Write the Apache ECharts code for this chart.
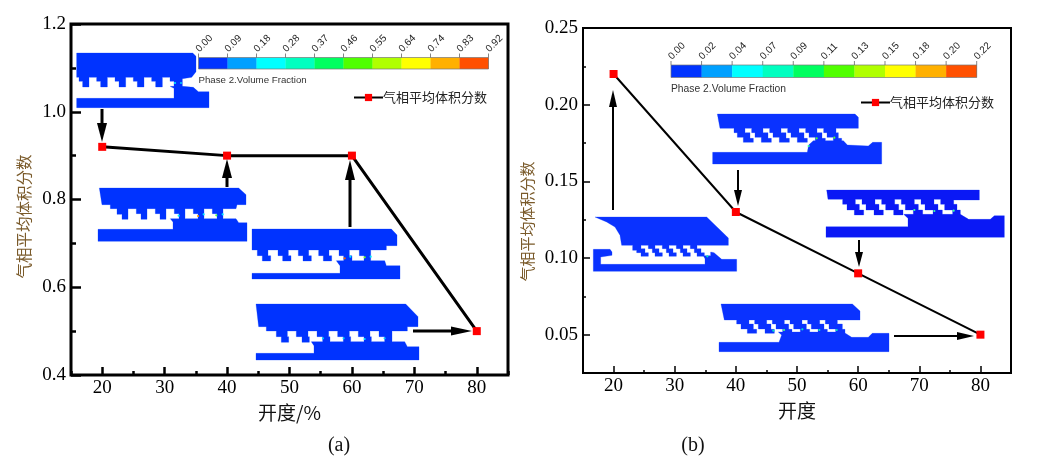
<!DOCTYPE html>
<html><head><meta charset="utf-8">
<style>html,body{margin:0;padding:0;background:#fff}#c{width:1038px;height:464px}</style>
<script src="https://cdn.jsdelivr.net/npm/echarts@6/dist/echarts.min.js"></script>
</head><body><div id="c"></div>
<script>
// ---------- data ----------
const openings = [20, 40, 60, 80];
const seriesName = '气相平均体积分数';
const valuesA = [0.92, 0.90, 0.90, 0.50];
const valuesB = [0.22, 0.13, 0.09, 0.05];
const xMajor = [20, 30, 40, 50, 60, 70, 80];
const xMinor = [15, 25, 35, 45, 55, 65, 75, 85];
const yMajorA = [0.4, 0.6, 0.8, 1.0, 1.2];
const yMinorA = [0.5, 0.7, 0.9, 1.1];
const yMajorB = [0.05, 0.10, 0.15, 0.20, 0.25];
const yMinorB = [0.075, 0.125, 0.175, 0.225];
const barLabelsA = ['0.00','0.09','0.18','0.28','0.37','0.46','0.55','0.64','0.74','0.83','0.92'];
const barLabelsB = ['0.00','0.02','0.04','0.07','0.09','0.11','0.13','0.15','0.18','0.20','0.22'];
const barColors = ['#0033ff','#00a0ff','#00ffff','#00ffc0','#00ff60','#50ff00','#b0ff00','#ffff00','#ffb000','#ff5000'];
const barTitle = 'Phase 2.Volume Fraction';

// ---------- inset drawings (valve cross-sections, in 3x crop units) ----------
function teeth(x0, period, n, rel) {
  const out = [];
  for (let i = 0; i < n; i++) rel.forEach(p => out.push([x0 + i * period + p[0], p[1]]));
  return out;
}
const insets = [
 {ox:70, oy:48, color:'#0033ff',
  top:[[20,88],[20,15],[368,15],[378,25],[378,71],[365,88],[337,92],[337,117]],
  edge:[[27,88],[27,100],[38,100],[38,117]].concat(teeth(38,55,5,[[19,117],[19,88],[42,88],[42,100],[54,100],[54,117]])),
  low:[[20,151],[312,151],[312,121],[300,115],[337,115],[370,118],[385,131],[417,131],[417,179],[20,179]],
  dots:[[315,105,'#00e8ff'],[333,105,'#00c8ff']]},
 {ox:92, oy:182, color:'#0033ff',
  top:[[30,68],[22,18],[440,18],[462,38],[462,68],[435,68],[432,80],[393,80],[393,112]],
  edge:[[55,68],[55,80],[75,80],[75,97],[90,97],[90,112]].concat(teeth(90,57,5,[[18,112],[18,80],[43,80],[43,95],[57,95],[57,112]])),
  low:[[18,142],[243,142],[243,120],[235,110],[432,110],[440,122],[465,122],[465,178],[18,178]],
  dots:[[260,101,'#00e8ff'],[318,102,'#ffa000'],[335,97,'#00e8ff'],[373,100,'#40ff40'],[392,97,'#00e8ff']]},
 {ox:248, oy:225, color:'#0033ff',
  top:[[12,75],[12,12],[430,12],[447,30],[447,62],[415,62],[415,75],[368,75],[368,108]],
  edge:[[28,75],[28,92],[43,92],[43,108]].concat(teeth(43,61,5,[[25,108],[25,92],[17,92],[17,75],[47,75],[47,92],[61,92],[61,108]])),
  low:[[12,145],[276,145],[276,122],[265,107],[410,107],[415,122],[456,122],[456,162],[12,162]],
  dots:[[290,100,'#ff6000'],[307,95,'#00e8ff'],[350,97,'#70ff20'],[368,95,'#00e8ff']]},
 {ox:248, oy:225, color:'#0033ff',
  top:[[32,305],[24,237],[473,237],[510,275],[510,305],[478,305],[478,318],[432,318],[432,352]],
  edge:[[55,305],[55,318],[85,318],[85,335],[100,335],[100,352]].concat(teeth(100,62,5,[[22,352],[22,335],[18,335],[18,318],[45,318],[45,335],[62,335],[62,352]])),
  low:[[24,385],[198,385],[198,362],[190,350],[470,350],[478,365],[513,365],[513,405],[24,405]],
  dots:[[225,340,'#00c8ff'],[287,340,'#00c8ff'],[350,342,'#00e8ff'],[410,340,'#00c8ff']]},
 {ox:590, oy:212, color:'#0a32ff',
  top:[[95,100],[90,70],[75,45],[50,30],[15,15],[350,15],[415,78],[415,100],[321,100]],
  edge:[[128,100],[128,115],[140,115],[140,122],[153,122],[153,133]].concat(teeth(153,42,4,[[22,133],[22,122],[12,122],[12,110],[0,110],[0,100],[22,100],[22,110],[34,110],[34,122],[42,122],[42,133]])).concat([[343,133],[343,122],[333,122],[333,110],[321,110]]),
  low:[[10,112],[60,112],[66,120],[66,130],[32,135],[32,157],[345,157],[345,140],[340,131],[362,131],[362,120],[372,122],[395,142],[440,142],[440,178],[10,178]],
  dots:[[352,133,'#00e8c0']]},
 {ox:710, oy:110, color:'#0a32ff',
  top:[[30,55],[22,12],[435,12],[445,22],[445,55],[378,55],[378,68],[385,68],[385,85],[395,85],[395,97]],
  edge:[[72,55],[72,68],[82,68],[82,82],[100,82],[100,97]].concat(teeth(100,54,5,[[30,97],[30,85],[20,85],[20,68],[5,68],[5,55],[25,55],[25,68],[35,68],[35,82],[54,82],[54,97]])),
  low:[[8,127],[292,127],[296,105],[310,92],[400,92],[412,105],[475,108],[488,97],[515,97],[515,162],[8,162]],
  dots:[[296,108,'#30ffa0'],[320,85,'#50ff30'],[373,83,'#50ff30']]},
 {ox:822, oy:185, color:'#0a18f5',
  top:[[18,43],[14,15],[472,15],[472,45],[395,45],[395,58],[405,58],[405,75],[415,75],[415,90]],
  edge:[[62,43],[62,58],[75,58],[75,75],[97,75],[97,90]].concat(teeth(97,59,5,[[28,90],[28,75],[15,75],[15,58],[3,58],[3,43],[23,43],[23,58],[35,58],[35,75],[59,75],[59,90]])),
  low:[[12,125],[258,125],[258,100],[245,88],[415,88],[440,103],[505,103],[517,92],[547,92],[547,157],[12,157]],
  dots:[[277,75,'#30ffa0'],[337,78,'#30ffa0'],[395,77,'#30ffa0']]},
 {ox:715, oy:300, color:'#0a32ff',
  top:[[28,60],[18,12],[412,12],[435,33],[435,60],[367,60],[367,72],[382,72],[382,88],[390,88],[390,100]],
  edge:[[65,60],[65,72],[78,72],[78,87],[97,87],[97,100]].concat(teeth(97,53,5,[[28,100],[28,88],[18,88],[18,72],[5,72],[5,60],[22,60],[22,72],[33,72],[33,87],[53,87],[53,100]])),
  low:[[12,127],[192,127],[200,105],[190,96],[385,96],[410,112],[460,112],[472,100],[522,100],[522,155],[12,155]],
  dots:[[175,92,'#00e8c0'],[207,90,'#40ff80'],[262,88,'#00e8c0'],[313,90,'#00e8c0'],[365,90,'#00e8c0']]}
];

// ---------- annotation arrows [x1, y1, x2 (tip), y2 (tip), shaft, head half-width, head length] ----------
const arrows = [
 [102,109,102,142,3,5,19],[227,187,227,159,3,5,19],[350,227,350,160,3,5,20],[413,331,472,331,3,4.5,21],
 [613,210,613,90,2,4,17],[738,170,738,206,2,4,16],[859,240,859,267,2,4,15],[894,336,974,336,2,4,17]
];

const graphics = [];
function scalePts(pts, ins) { return pts.map(p => [ins.ox + p[0] / 3, ins.oy + p[1] / 3]); }
insets.forEach(ins => {
  const upper = ins.top.concat(ins.edge.slice().reverse());
  // light halo first, solid fill on top, so the two bodies join without a seam
  [upper, ins.low].forEach(pts => graphics.push({type:'polygon', z:5, shape:{points:scalePts(pts, ins)},
    style:{fill:'#8ea8ff', stroke:'#a8bcff', lineWidth:0.8}}));
  [upper, ins.low].forEach(pts => graphics.push({type:'polygon', z:5, shape:{points:scalePts(pts, ins)},
    style:{fill:ins.color}}));
  ins.dots.forEach(d => graphics.push({type:'circle', z:6, shape:{cx:ins.ox+d[0]/3, cy:ins.oy+d[1]/3, r:1.1}, style:{fill:d[2]}}));
});
arrows.forEach(a => {
  const [x1,y1,x2,y2,w,hw,hl] = a;
  const len = Math.hypot(x2-x1, y2-y1), ux = (x2-x1)/len, uy = (y2-y1)/len;
  const bx = x2-ux*hl, by = y2-uy*hl;
  graphics.push({type:'line', z:7, shape:{x1, y1, x2:bx, y2:by}, style:{stroke:'#000', lineWidth:w}});
  graphics.push({type:'polygon', z:7, shape:{points:[[x2,y2],[bx-uy*hw,by+ux*hw],[bx+uy*hw,by-ux*hw]]}, style:{fill:'#000'}});
});
function colorBar(x0, x1, y0, y1, labels, titleY, titleSize, labelSize) {
  const step = (x1 - x0) / barColors.length;
  barColors.forEach((c, i) => graphics.push({type:'rect', z:5, shape:{x:x0+i*step, y:y0, width:step+0.3, height:y1-y0}, style:{fill:c}}));
  graphics.push({type:'rect', z:6, shape:{x:x0, y:y0, width:x1-x0, height:y1-y0}, style:{fill:'none', stroke:'#777', lineWidth:0.7}});
  labels.forEach((t, i) => {
    const x = x0 + i * step;
    graphics.push({type:'line', z:6, shape:{x1:x, y1:y0, x2:x, y2:y0-4}, style:{stroke:'#666', lineWidth:0.8}});
    graphics.push({type:'text', z:6, x:x-1, y:y0-7, rotation:Math.PI/4,
      style:{text:t, fill:'#222', font:labelSize+'px "Liberation Sans"', textAlign:'left', textVerticalAlign:'middle'}});
  });
  graphics.push({type:'text', z:6, x:x0, y:titleY, style:{text:barTitle, fill:'#333', font:titleSize+'px "Liberation Sans"', textAlign:'left', textVerticalAlign:'middle'}});
}
colorBar(198.5, 488.5, 57.5, 69, barLabelsA, 80, 9.7, 10);
colorBar(671, 976.7, 65, 77.5, barLabelsB, 89.5, 10.3, 10);
[['(a)',339,446],['(b)',693,446]].forEach(t => graphics.push({type:'text', x:t[1], y:t[2],
  style:{text:t[0], fill:'#111', font:'20px "Liberation Serif"', textAlign:'center', textVerticalAlign:'middle'}}));

// ---------- axes ----------
const numFont = {fontFamily:'"Liberation Serif"', fontSize:19, color:'#000'};
const cjk = '"Noto Sans CJK SC"';
function xAxes(grid, name, w, major, minor, gap) {
  return [
   {type:'value', gridIndex:grid, min:15, max:85, name, nameLocation:'middle', nameGap:gap,
    nameTextStyle:{fontFamily:'"Noto Sans CJK SC"', fontSize:19, color:'#111'},
    axisLine:{show:false}, splitLine:{show:false},
    axisTick:{show:true, inside:true, length:major, lineStyle:{color:'#000', width:w}, customValues:xMajor},
    axisLabel:{...numFont, margin:4, customValues:xMajor, formatter:v=>String(v)}},
   {type:'value', gridIndex:grid, min:15, max:85, position:'bottom',
    axisLine:{show:false}, splitLine:{show:false}, axisLabel:{show:false},
    axisTick:{show:true, inside:true, length:minor, lineStyle:{color:'#000', width:w}, customValues:xMinor}}
  ];
}
function yAxes(grid, lo, hi, maj, min, dec, name, nameGap, w, major, minor, fs, shift) {
  return [
   {type:'value', gridIndex:grid, min:lo, max:hi, name, nameLocation:'middle', nameGap,
    nameTextStyle:{fontFamily:cjk, fontSize:fs, color:'#7a5a2a', padding:[0,shift,0,0]},
    axisLine:{show:false}, splitLine:{show:false},
    axisTick:{show:true, inside:true, length:major, lineStyle:{color:'#000', width:w}, customValues:maj},
    axisLabel:{...numFont, margin:5, customValues:maj, formatter:v=>v.toFixed(dec)}},
   {type:'value', gridIndex:grid, min:lo, max:hi, position:'left',
    axisLine:{show:false}, splitLine:{show:false}, axisLabel:{show:false},
    axisTick:{show:true, inside:true, length:minor, lineStyle:{color:'#000', width:w}, customValues:min}}
  ];
}
function lineSeries(xi, yi, vals, w) {
  return {type:'line', name:seriesName, xAxisIndex:xi, yAxisIndex:yi, data:openings.map((o,i)=>[o,vals[i]]),
    symbol:'rect', symbolSize:8, silent:true, animation:false,
    lineStyle:{color:'#000', width:w}, itemStyle:{color:'#ff0000'}, z:4};
}
function legend(left, top) {
  return {show:true, left, top, data:[seriesName], selectedMode:false, itemWidth:29, itemHeight:9, itemGap:0,
    padding:0, textStyle:{fontFamily:cjk, fontSize:13, color:'#222', padding:[0,0,0,-5]}};
}

const chart = echarts.init(document.getElementById('c'), null, {renderer:'canvas'});
chart.setOption({
  animation:false, backgroundColor:'#fff',
  grid:[
    {left:71, top:24, width:437, height:351, show:true, borderColor:'#000', borderWidth:3, backgroundColor:'transparent'},
    {left:583, top:28, width:428, height:345, show:true, borderColor:'#000', borderWidth:2, backgroundColor:'transparent'}
  ],
  xAxis:[...xAxes(0,'开度/%',2.5,8,4,18), ...xAxes(1,'开度',1.5,7,3,19)],
  yAxis:[...yAxes(0,0.4,1.2,yMajorA,yMinorA,1,seriesName,39,2.5,10,5,15.5,34),
         ...yAxes(1,0.025,0.25,yMajorB,yMinorB,2,seriesName,48,1.5,7,3,15,42)],
  series:[lineSeries(0,0,valuesA,3), lineSeries(2,2,valuesB,2)],
  legend:[legend(353,91), legend(860,96)],
  graphic:{elements:graphics}
});
</script></body></html>
